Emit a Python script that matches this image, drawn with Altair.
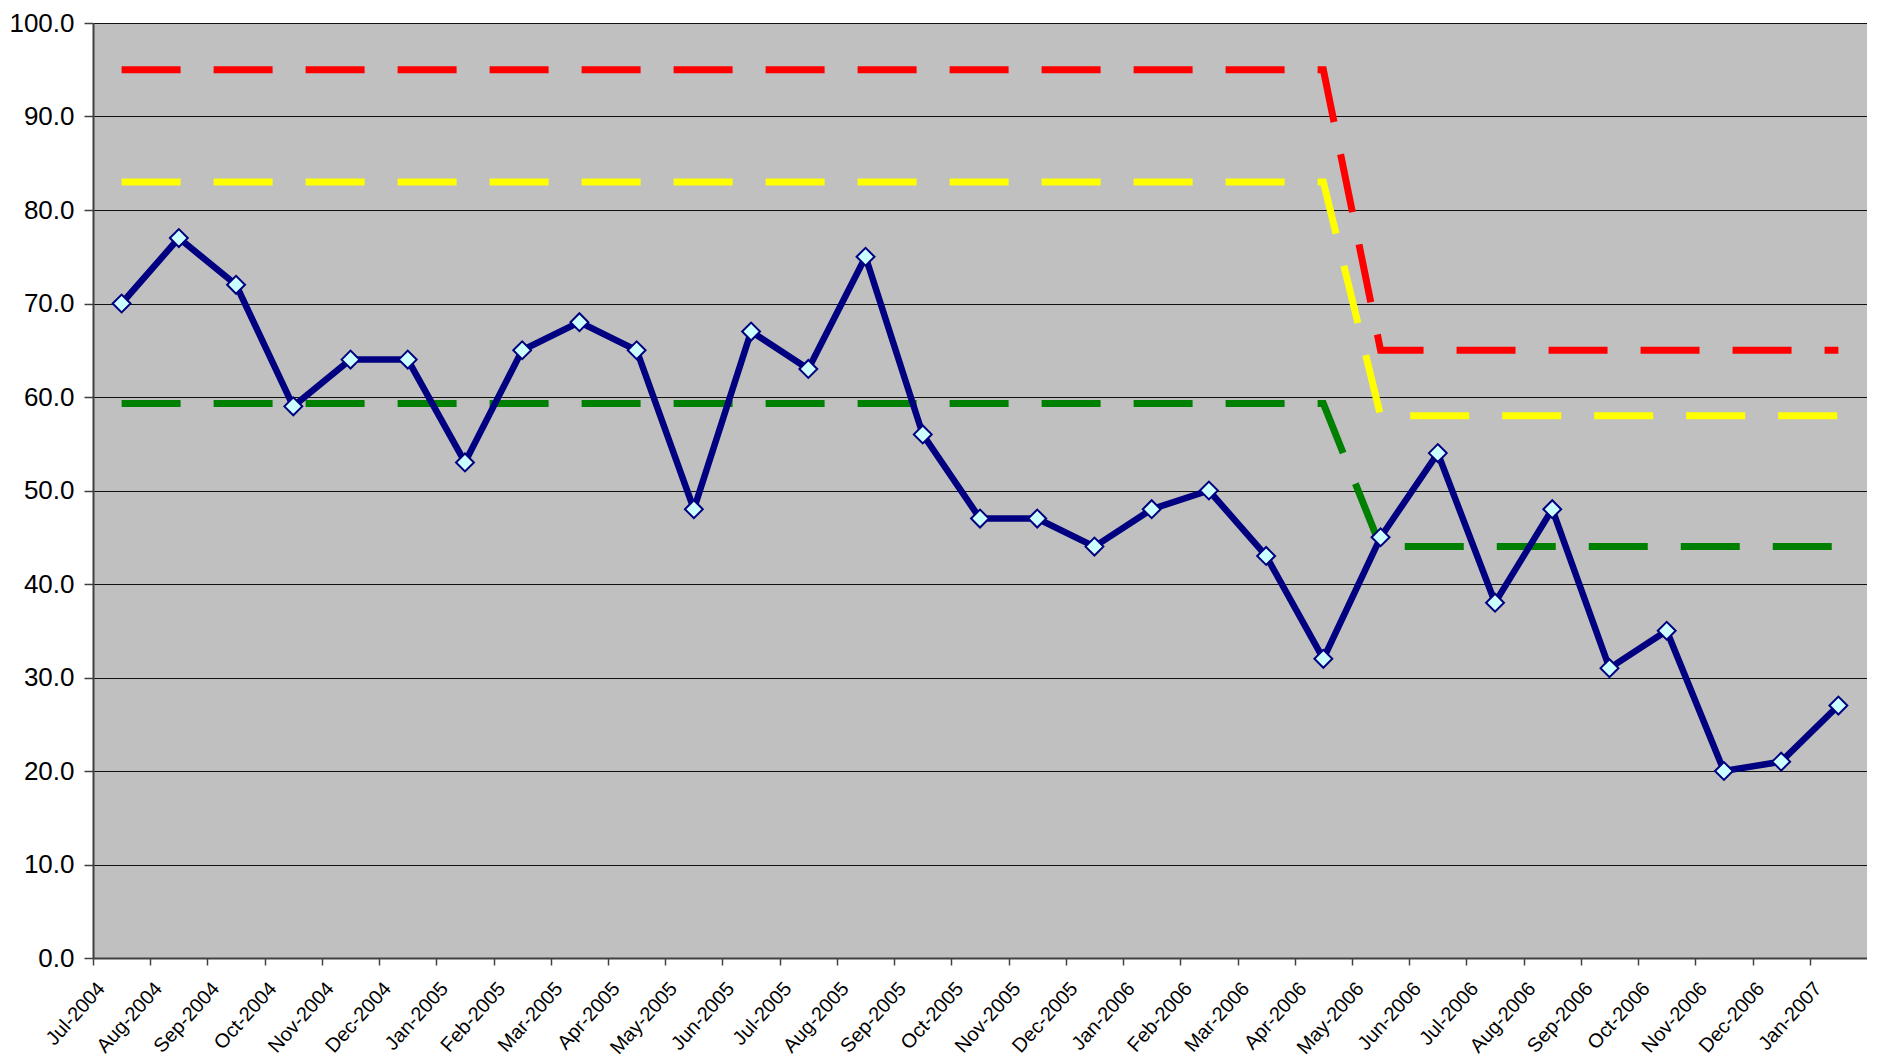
import altair as alt
import pandas as pd

months = ["Jul-2004", "Aug-2004", "Sep-2004", "Oct-2004", "Nov-2004", "Dec-2004",
          "Jan-2005", "Feb-2005", "Mar-2005", "Apr-2005", "May-2005", "Jun-2005",
          "Jul-2005", "Aug-2005", "Sep-2005", "Oct-2005", "Nov-2005", "Dec-2005",
          "Jan-2006", "Feb-2006", "Mar-2006", "Apr-2006", "May-2006", "Jun-2006",
          "Jul-2006", "Aug-2006", "Sep-2006", "Oct-2006", "Nov-2006", "Dec-2006",
          "Jan-2007"]

values = [70, 77, 72, 59, 64, 64, 53, 65, 68, 65, 48, 67, 63, 75, 56, 47, 47, 44,
          48, 50, 43, 32, 45, 54, 38, 48, 31, 35, 20, 21, 27]

red_level = [95, 95, 95, 95, 95, 95, 95, 95, 95, 95, 95, 95, 95, 95, 95, 95, 95, 95,
             95, 95, 95, 95, 65, 65, 65, 65, 65, 65, 65, 65, 65]
yellow_level = [83, 83, 83, 83, 83, 83, 83, 83, 83, 83, 83, 83, 83, 83, 83, 83, 83, 83,
                83, 83, 83, 83, 58, 58, 58, 58, 58, 58, 58, 58, 58]
green_level = [59.3, 59.3, 59.3, 59.3, 59.3, 59.3, 59.3, 59.3, 59.3, 59.3, 59.3, 59.3,
               59.3, 59.3, 59.3, 59.3, 59.3, 59.3, 59.3, 59.3, 59.3, 59.3,
               44, 44, 44, 44, 44, 44, 44, 44, 44]

y_ticks = [0, 10, 20, 30, 40, 50, 60, 70, 80, 90, 100]

W = 1774
H = 935
step = W / len(months)

data_df = pd.DataFrame({"month": months, "value": values})
rows = []
for name, lev in [("red", red_level), ("yellow", yellow_level), ("green", green_level)]:
    for m, v in zip(months, lev):
        rows.append({"month": m, "value": v, "series": name})
thr_df = pd.DataFrame(rows)

x_enc = alt.X(
    "month:O",
    sort=months,
    scale=alt.Scale(type="point", padding=0.5),
    axis=alt.Axis(
        title=None,
        grid=False,
        labelAngle=-48,
        labelAlign="right",
        labelBaseline="middle",
        labelFont="Liberation Sans",
        labelFontSize=20,
        labelColor="black",
        tickOffset=-step / 2,
        labelOffset=8,
        tickSize=7,
        tickColor="#404040",
        tickWidth=1.5,
        domainColor="#404040",
        domainWidth=2,
        labelPadding=20,
    ),
)
y_enc = alt.Y(
    "value:Q",
    scale=alt.Scale(domain=[0, 100], nice=False),
    axis=alt.Axis(
        title=None,
        values=y_ticks,
        format=".1f",
        labelFont="Liberation Sans",
        labelFontSize=26,
        labelColor="black",
        tickSize=9,
        tickColor="#404040",
        tickWidth=1.5,
        domainColor="#404040",
        domainWidth=2,
        labelPadding=10,
        gridColor="#111111",
        gridWidth=1,
    ),
)

thr = alt.Chart(thr_df).mark_line(
    strokeWidth=7, strokeDash=[59, 33], strokeCap="butt"
).encode(
    x=x_enc,
    y=y_enc,
    detail="series:N",
    color=alt.Color(
        "series:N",
        scale=alt.Scale(domain=["red", "yellow", "green"],
                        range=["#FF0000", "#FFFF00", "#008000"]),
        legend=None,
    ),
)

line = alt.Chart(data_df).mark_line(color="#000080", strokeWidth=6.5).encode(x=x_enc, y=y_enc)
pts = alt.Chart(data_df).mark_point(
    shape="diamond", filled=True, fill="#CCFFFF", stroke="#000080",
    strokeWidth=2, size=320, opacity=1
).encode(x=x_enc, y=y_enc)

chart = alt.layer(thr, line, pts).properties(
    width=W, height=H,
    padding={"left": 0, "top": 2, "right": 0, "bottom": 0},
    background="white",
).configure_view(fill="#C0C0C0", stroke="transparent")

chart.save("out.html", embed_options={"renderer": "svg", "actions": False})
